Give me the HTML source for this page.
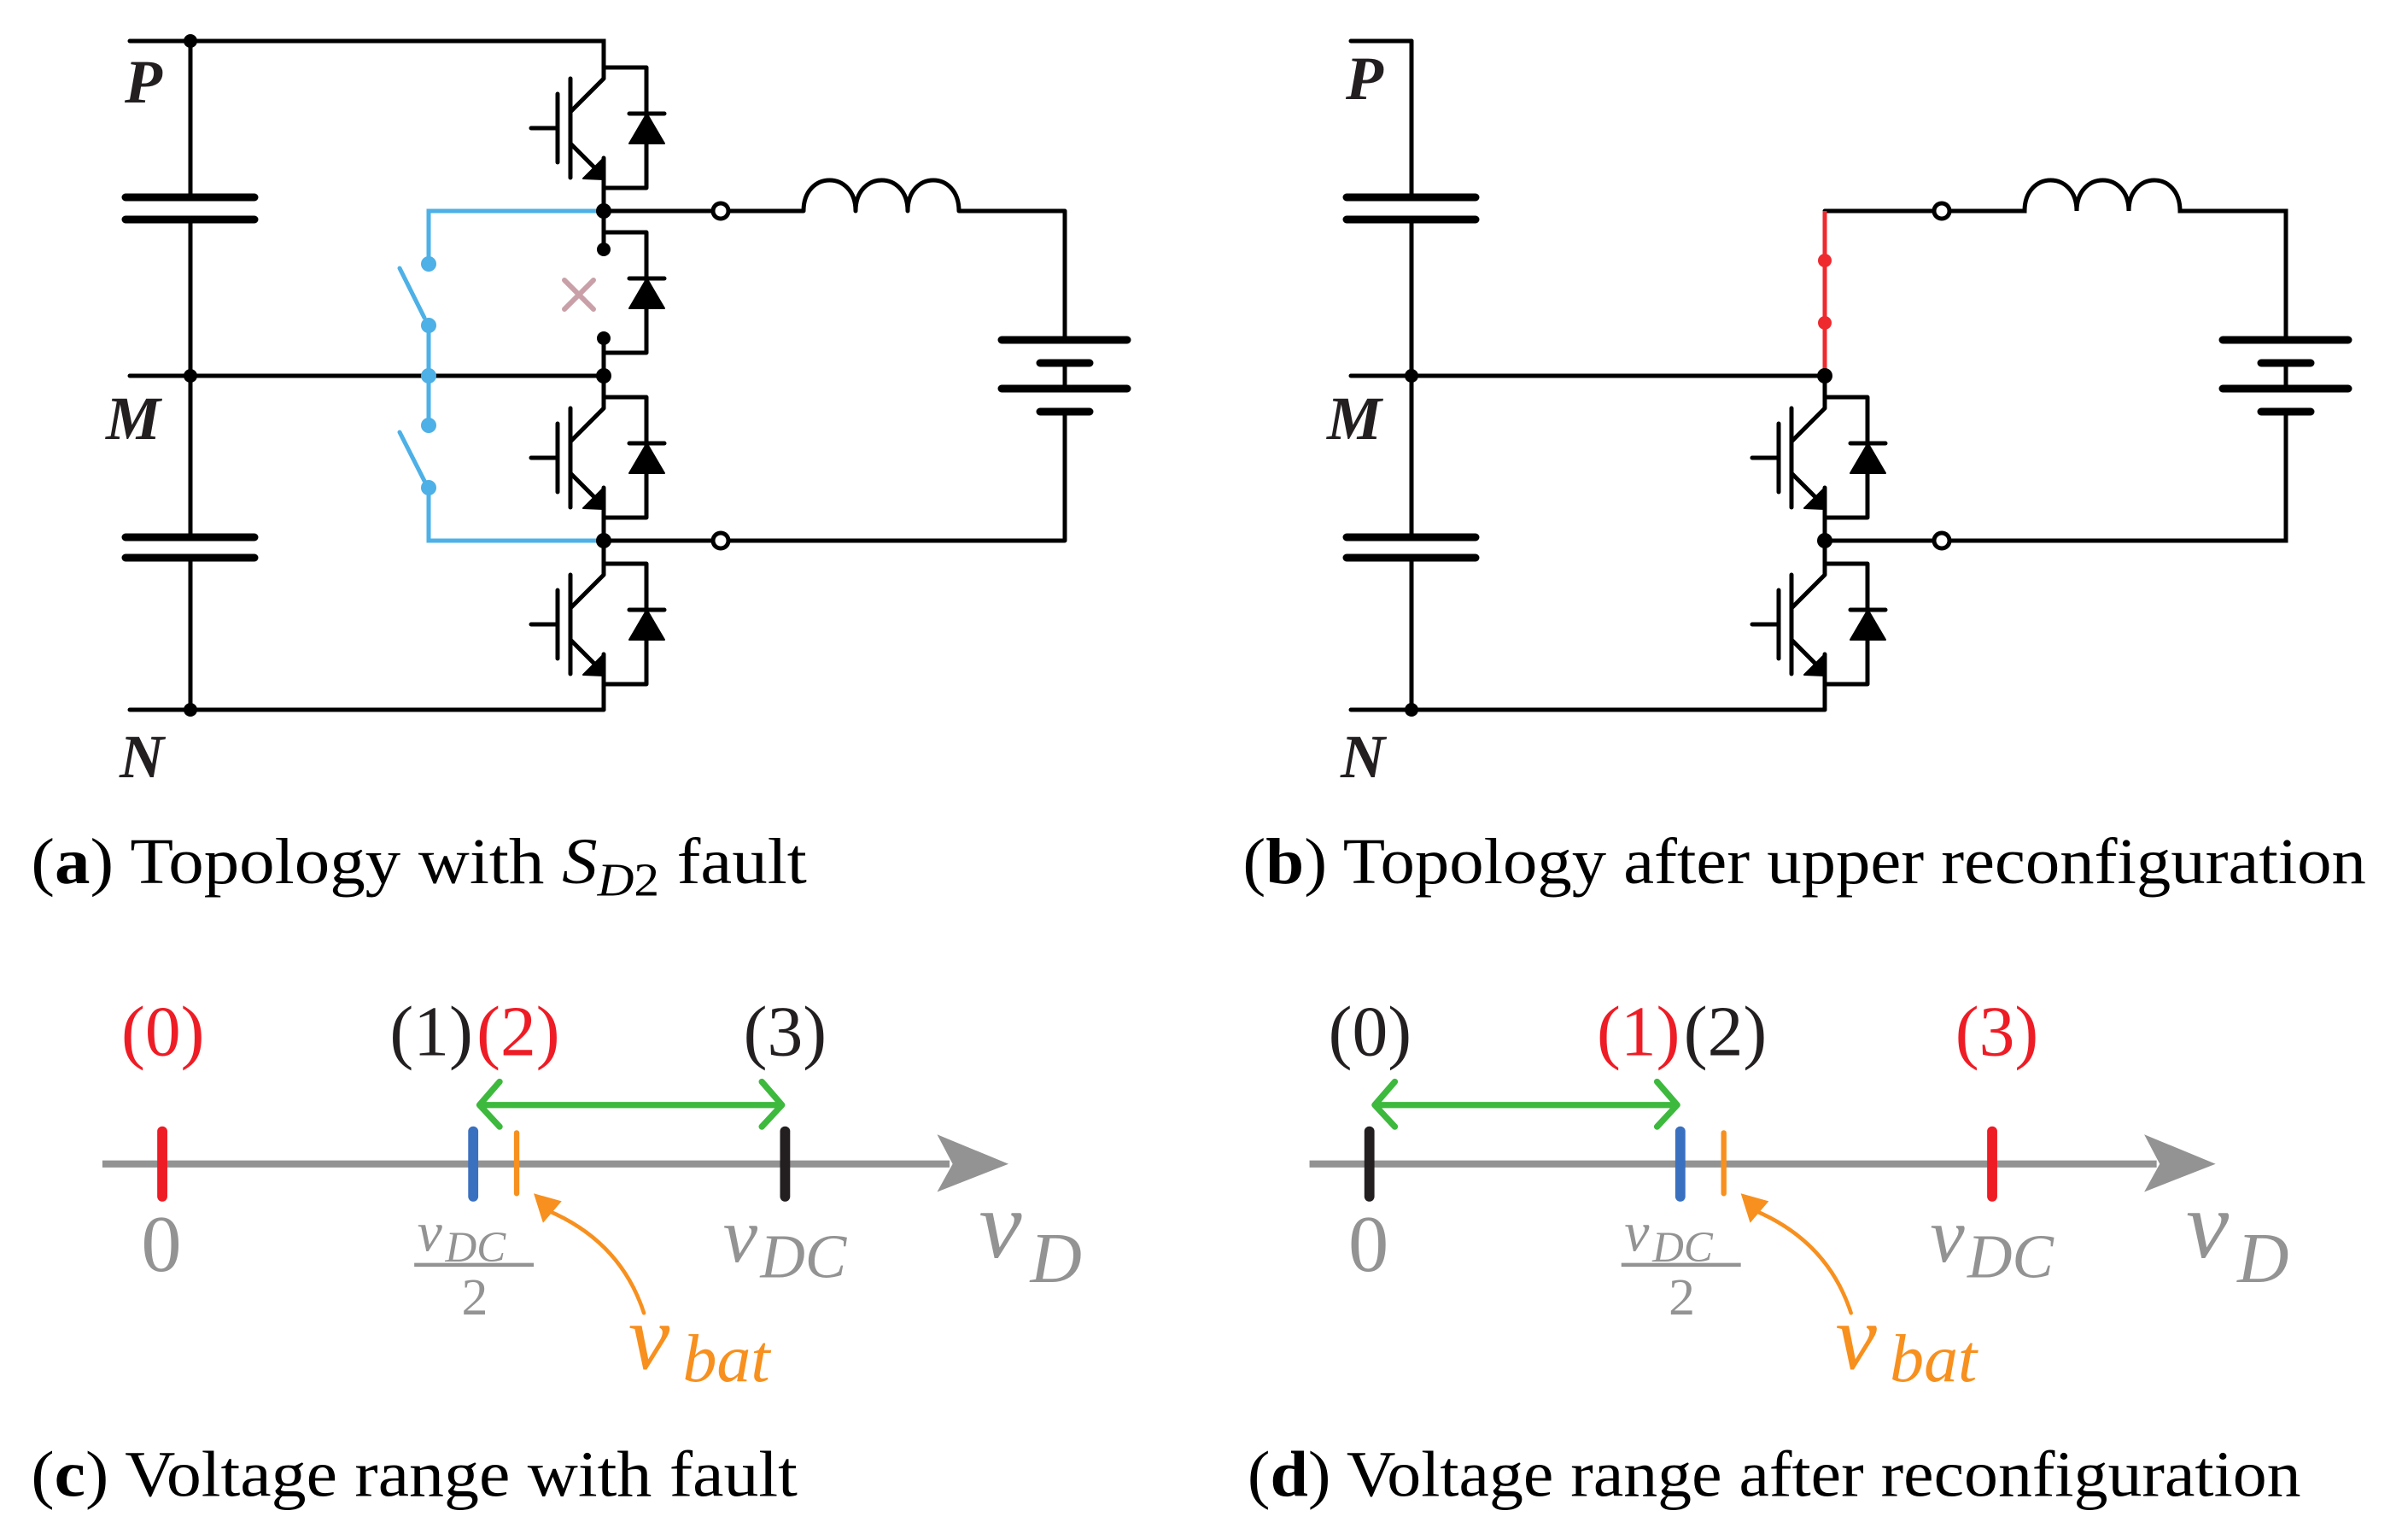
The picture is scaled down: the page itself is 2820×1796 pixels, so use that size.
<!DOCTYPE html>
<html><head><meta charset="utf-8"><style>
html,body{margin:0;padding:0;background:#fff;}
svg{display:block;}
</style></head><body>
<svg width="2820" height="1796" viewBox="0 0 2820 1796" xmlns="http://www.w3.org/2000/svg">
<defs>
<g id="igbt" stroke="#000" stroke-width="5" fill="none" stroke-linecap="round" stroke-linejoin="round">
  <path d="M0,0 L0,13 L-39,52"/>
  <path d="M-39,13 L-39,129"/>
  <path d="M-54,31 L-54,111"/>
  <path d="M-85,71 L-54,71"/>
  <path d="M-39,89 L-8,120"/>
  <polygon points="0,106 -24,130 0,131" fill="#000" stroke-width="2"/>
  <path d="M0,106 L0,141"/>
  <path d="M0,0 L50,0 L50,141 L0,141"/>
  <path d="M30,54 L71,54"/>
  <polygon points="30,89 71,89 50.5,54" fill="#000" stroke-width="2"/>
</g>
<g id="diode" stroke="#000" stroke-width="5" fill="none" stroke-linecap="round" stroke-linejoin="round">
  <path d="M0,0 L50,0 L50,141 L0,141"/>
  <path d="M30,54 L71,54"/>
  <polygon points="30,89 71,89 50.5,54" fill="#000" stroke-width="2"/>
</g>
<g id="load" stroke="#000" stroke-width="5" fill="none" stroke-linecap="round" stroke-linejoin="round">
  <path d="M707,247 L835,247"/>
  <path d="M853,247 L941,247 C941,199 1002,199 1002,247 C1002,199 1063,199 1063,247 C1063,199 1123,199 1123,247 L1247,247 L1247,398"/>
  <path d="M1247,425 L1247,455"/>
  <path d="M1247,482 L1247,633 L853,633"/>
  <path d="M707,633 L835,633"/>
  <circle cx="844" cy="247" r="9" fill="#fff"/>
  <circle cx="844" cy="633" r="9" fill="#fff"/>
  <path d="M1173,398 L1320,398 M1173,455 L1320,455" stroke-width="9"/>
  <path d="M1218,425 L1276,425 M1218,482 L1276,482" stroke-width="9"/>
</g>
<g id="caps" stroke="#000" stroke-linecap="round" fill="none">
  <path d="M223,231 L223,48 M223,257 L223,629 M223,653 L223,831" stroke-width="5"/>
  <path d="M147,231 L298,231 M147,257 L298,257 M147,629 L298,629 M147,653 L298,653" stroke-width="9"/>
</g>
</defs>

<!-- Panel a -->
<g>
  <use href="#caps"/>
  <g stroke="#000" stroke-width="5" fill="none" stroke-linecap="round">
    <path d="M152,48 L707,48 L707,79"/>
    <path d="M152,440 L707,440"/>
    <path d="M152,831 L707,831"/>
    <path d="M707,220 L707,292"/>
    <path d="M707,396 L707,465"/>
    <path d="M707,606 L707,660"/>
    <path d="M707,801 L707,831"/>
  </g>
  <g stroke="#4db0e6" stroke-width="5" fill="none" stroke-linecap="round">
    <path d="M700,247 L502,247 L502,309"/>
    <path d="M502,381 L502,498"/>
    <path d="M502,571 L502,633 L700,633"/>
    <path d="M468,314 L497,372"/>
    <path d="M468,506 L497,563"/>
  </g>
  <g fill="#4db0e6">
    <circle cx="502" cy="309" r="9"/><circle cx="502" cy="381" r="9"/><circle cx="502" cy="440" r="9"/>
    <circle cx="502" cy="498" r="9"/><circle cx="502" cy="571" r="9"/>
  </g>
  <use href="#igbt" x="707" y="79"/>
  <use href="#diode" x="707" y="272"/>
  <use href="#igbt" x="707" y="465"/>
  <use href="#igbt" x="707" y="660"/>
  <use href="#load"/>
  <g fill="#000">
    <circle cx="223" cy="48" r="8"/><circle cx="223" cy="440" r="8"/><circle cx="223" cy="831" r="8"/>
    <circle cx="707" cy="247" r="9"/><circle cx="707" cy="440" r="9"/><circle cx="707" cy="633" r="9"/>
    <circle cx="707" cy="292" r="8"/><circle cx="707" cy="396" r="8"/>
  </g>
  <path d="M661,328 L695,362 M695,328 L661,362" stroke="#c9a0a8" stroke-width="6" stroke-linecap="round"/>
  <g font-family="Liberation Serif, serif" font-weight="bold" font-style="italic" font-size="72" fill="#231f20">
    <text x="146" y="120">P</text>
    <text x="124" y="514">M</text>
    <text x="140" y="910">N</text>
  </g>
</g>

<!-- Panel b -->
<g transform="translate(1430,0)">
  <use href="#caps"/>
  <g stroke="#000" stroke-width="5" fill="none" stroke-linecap="round">
    <path d="M152,48 L223,48"/>
    <path d="M152,440 L707,440"/>
    <path d="M152,831 L707,831"/>
    <path d="M707,440 L707,465"/>
    <path d="M707,606 L707,660"/>
    <path d="M707,801 L707,831"/>
  </g>
  <use href="#igbt" x="707" y="465"/>
  <use href="#igbt" x="707" y="660"/>
  <g stroke="#000" stroke-width="5" fill="none" stroke-linecap="round">
    <path d="M707,247 L835,247"/>
    <path d="M853,247 L941,247 C941,199 1002,199 1002,247 C1002,199 1063,199 1063,247 C1063,199 1123,199 1123,247 L1247,247 L1247,398"/>
    <path d="M1247,425 L1247,455"/>
    <path d="M1247,482 L1247,633 L853,633"/>
    <path d="M707,633 L835,633"/>
    <circle cx="844" cy="247" r="9" fill="#fff"/>
    <circle cx="844" cy="633" r="9" fill="#fff"/>
    <path d="M1173,398 L1320,398 M1173,455 L1320,455" stroke-width="9"/>
    <path d="M1218,425 L1276,425 M1218,482 L1276,482" stroke-width="9"/>
  </g>
  <path d="M707,247 L707,440" stroke="#ee2a2f" stroke-width="5"/>
  <g fill="#ee2a2f"><circle cx="707" cy="305" r="8"/><circle cx="707" cy="378" r="8"/></g>
  <g fill="#000">
    <circle cx="223" cy="440" r="8"/><circle cx="223" cy="831" r="8"/>
    <circle cx="707" cy="440" r="9"/><circle cx="707" cy="633" r="9"/>
  </g>
  <g font-family="Liberation Serif, serif" font-weight="bold" font-style="italic" font-size="72" fill="#231f20">
    <text x="146" y="116">P</text>
    <text x="124" y="514">M</text>
    <text x="140" y="910">N</text>
  </g>
</g>

<!-- Lower panels & captions in display coordinates -->
<g transform="scale(1.8170)" font-family="Liberation Serif, serif">
  <g font-size="42" fill="#000">
    <text x="20" y="569" textLength="500" lengthAdjust="spacingAndGlyphs">(<tspan font-weight="bold">a</tspan>) Topology with <tspan font-style="italic">S</tspan><tspan font-style="italic" font-size="30" dy="8">D</tspan><tspan font-size="30">2</tspan><tspan dy="-8"> fault</tspan></text>
    <text x="801" y="569" textLength="724" lengthAdjust="spacingAndGlyphs">(<tspan font-weight="bold">b</tspan>) Topology after upper reconfiguration</text>
    <text x="20" y="964" textLength="494" lengthAdjust="spacingAndGlyphs">(<tspan font-weight="bold">c</tspan>) Voltage range with fault</text>
    <text x="804" y="964" textLength="679" lengthAdjust="spacingAndGlyphs">(<tspan font-weight="bold">d</tspan>) Voltage range after reconfiguration</text>
  </g>

  <!-- panel c -->
  <g id="axc">
    <path d="M66,750 L612,750" stroke="#939393" stroke-width="4.6"/>
    <polygon points="604,731 650,750 604,768 614,750" fill="#939393"/>
    <g fill="#939393">
      <text x="104" y="819" font-size="52" text-anchor="middle">0</text>
      <text x="269" y="806" font-size="36" font-style="italic">v</text>
      <text x="287" y="813" font-size="28" font-style="italic">DC</text>
      <text x="306" y="847" font-size="34" text-anchor="middle">2</text>
      <text x="466" y="813" font-size="50" font-style="italic">v</text>
      <text x="490" y="823" font-size="40" font-style="italic">DC</text>
      <text x="631" y="810" font-size="62" font-style="italic">v</text>
      <text x="664" y="826" font-size="46" font-style="italic">D</text>
    </g>
    <path d="M267,815 L344,815" stroke="#939393" stroke-width="2.5"/>
  </g>
  <g stroke-linecap="round">
    <path d="M104.6,729 L104.6,771" stroke="#ee1c25" stroke-width="6.5"/>
    <path d="M305,729 L305,771" stroke="#3a70c0" stroke-width="6.5"/>
    <path d="M333,730 L333,769" stroke="#f7901e" stroke-width="3.5"/>
    <path d="M506,729 L506,771" stroke="#231f20" stroke-width="6.5"/>
    <path d="M310,712 L503,712 M322,697 L309,712 L322,726 M491,697 L504,712 L491,726" stroke="#3db93d" stroke-width="4" fill="none" stroke-linejoin="round"/>
    <path d="M415,846 Q400,800 353,780" stroke="#f7901e" stroke-width="2.5" fill="none"/>
    <polygon points="344,769 362,774 350,788" fill="#f7901e"/>
  </g>
  <g fill="#f7901e" font-style="italic">
    <text x="405" y="882" font-size="60">v</text>
    <text x="440" y="890" font-size="44">bat</text>
  </g>
  <g font-size="46" text-anchor="middle">
    <text x="105" y="680" fill="#ee1c25">(0)</text>
    <text x="278" y="680" fill="#231f20">(1)</text>
    <text x="334" y="680" fill="#ee1c25">(2)</text>
    <text x="506" y="680" fill="#231f20">(3)</text>
  </g>

  <!-- panel d -->
  <g transform="translate(778,0)">
    <use href="#axc"/>
    <g stroke-linecap="round">
      <path d="M104.6,729 L104.6,771" stroke="#231f20" stroke-width="6.5"/>
      <path d="M305,729 L305,771" stroke="#3a70c0" stroke-width="6.5"/>
      <path d="M333,730 L333,769" stroke="#f7901e" stroke-width="3.5"/>
      <path d="M506,729 L506,771" stroke="#ee1c25" stroke-width="6.5"/>
      <path d="M109,712 L302,712 M121,697 L108,712 L121,726 M290,697 L303,712 L290,726" stroke="#3db93d" stroke-width="4" fill="none" stroke-linejoin="round"/>
      <path d="M415,846 Q400,800 353,780" stroke="#f7901e" stroke-width="2.5" fill="none"/>
      <polygon points="344,769 362,774 350,788" fill="#f7901e"/>
    </g>
    <g fill="#f7901e" font-style="italic">
      <text x="405" y="882" font-size="60">v</text>
      <text x="440" y="890" font-size="44">bat</text>
    </g>
    <g font-size="46" text-anchor="middle">
      <text x="105" y="680" fill="#231f20">(0)</text>
      <text x="278" y="680" fill="#ee1c25">(1)</text>
      <text x="334" y="680" fill="#231f20">(2)</text>
      <text x="509" y="680" fill="#ee1c25">(3)</text>
    </g>
  </g>
</g>
</svg>
</body></html>
